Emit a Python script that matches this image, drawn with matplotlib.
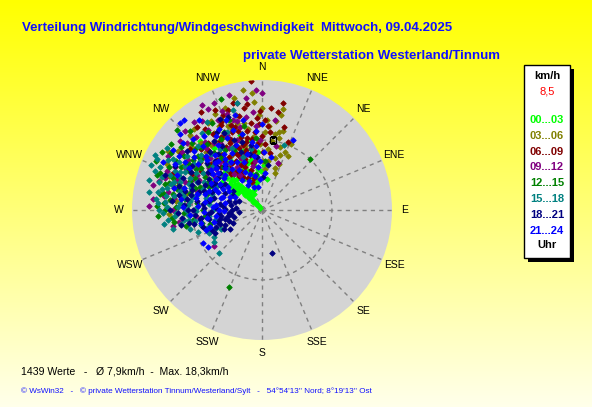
# Wind direction / wind speed distribution (WsWin32 style)

import numpy as np
import matplotlib
matplotlib.use("Agg")
import matplotlib.pyplot as plt
from matplotlib.patches import Rectangle

plt.rcParams['font.family'] = ['Liberation Sans', 'DejaVu Sans']

# data: (direction in degrees, speed in km/h) per time band
pts_00_03 = [(315, 0.4), (314, 0.8), (316, 1.1), (313, 1.4), (317, 1.6), (315, 1.9), (312, 2.2), (318, 2.4),
             (314, 2.7), (316, 3.0), (313, 3.3), (319, 3.5), (315, 3.8), (311, 4.0), (317, 4.3), (314, 4.6),
             (320, 2.0), (310, 1.5), (316, 0.6), (312, 3.0), (318, 3.9), (315, 2.4), (321, 4.8), (313, 5.2),
             (345, 4.5), (350, 5.5), (356, 7.1), (348, 6.2), (340, 5.0), (352, 4.2), (335, 6.5), (342, 7.5),
             (10, 3.8), (330, 4.4), (325, 5.8), (338, 8.3), (318, 11.3), (322, 9.5), (305, 6.0), (300, 7.2),
             (328, 7.0), (346, 3.2), (355, 5.0), (333, 3.6),
             (318, 5.5), (322, 6.2), (326, 4.8), (312, 5.8), (308, 4.6), (335, 7.8), (340, 9.0), (344, 6.0),
             (350, 3.5), (358, 4.8), (3, 5.5), (330, 8.8), (325, 3.0), (332, 2.2), (338, 2.6), (305, 3.5),
             (300, 4.2), (296, 6.5), (344, 9.5), (351, 8.5),
             (320, 6.8), (324, 7.4), (328, 5.2), (316, 6.4), (310, 5.0), (306, 4.0), (319, 1.2), (322, 3.2),
             (327, 2.6), (334, 5.4), (338, 4.2), (311, 2.8), (309, 3.8), (317, 5.0), (313, 6.2)]
pts_03_06 = [(355, 14.3), (0, 12.4), (3, 11.0), (9, 10.9), (12, 9.7), (10, 9.4), (13, 9.0), (8, 8.5), (16, 8.0),
             (6, 7.5), (18, 7.0), (14, 6.5), (20, 6.0), (17, 5.3), (5, 10.2), (2, 9.5), (358, 11.5), (11, 11.8),
             (15, 10.0), (22, 7.6), (7, 6.0), (19, 4.8), (330, 12.5), (333, 11.5), (328, 11.0), (336, 12.0),
             (340, 10.5), (326, 10.0), (345, 12.0), (348, 10.8), (320, 12.8), (312, 11.6), (308, 10.5), (316, 9.8),
             (335, 9.2), (342, 9.0), (350, 10.0), (324, 8.6), (345, 8.0), (352, 7.0), (267.5, 11.3), (290, 12.0),
             (300, 11.0), (282, 9.5), (276, 10.5),
             (356, 13.2), (351, 14.8), (346, 14.0), (340, 13.2), (334, 13.0), (338, 11.0), (332, 10.0), (344, 11.0),
             (353, 9.0), (358, 8.0), (1, 6.0), (4, 5.0), (328, 12.4), (318, 11.0), (322, 10.0), (316, 12.6),
             (305, 12.5), (302, 13.5), (296, 12.8), (286, 11.2), (314, 8.0), (330, 7.6), (12, 12.5), (24, 8.8),
             (26, 7.3)]
pts_06_09 = [(355, 15.7), (11, 13.2), (5, 12.4), (9, 12.1), (328, 14.1), (352, 13.0), (2, 11.0), (15, 10.5),
             (21, 8.9), (338, 12.5), (345, 13.5), (325, 12.0), (335, 6.0), (338, 7.0), (340, 8.0), (342, 6.5),
             (345, 7.5), (347, 8.5), (333, 7.8), (330, 8.8), (336, 9.5), (343, 10.0), (349, 9.8), (352, 8.7),
             (355, 9.5), (358, 10.5), (0, 9.0), (3, 8.0), (6, 9.5), (327, 6.8), (332, 5.2), (339, 5.6), (344, 5.0),
             (348, 6.8), (350, 7.7), (354, 6.5), (357, 8.2), (1, 7.0), (320, 9.0), (315, 10.5), (310, 11.5),
             (305, 12.0), (322, 7.5), (318, 8.2), (300, 10.5), (292, 11.8), (285, 10.0), (340, 11.0), (334, 11.5),
             (346, 11.8),
             (337, 4.2), (341, 3.6), (346, 4.0), (330, 4.6), (326, 5.6), (323, 6.4), (319, 5.8), (343, 7.2),
             (349, 5.8), (353, 10.6), (359, 12.0), (4, 10.2), (8, 7.0), (331, 10.2), (327, 11.0), (321, 10.4),
             (313, 9.2), (308, 9.5), (303, 8.8), (297, 9.6), (289, 10.8), (337, 8.4), (344, 9.2), (357, 11.2),
             (350, 12.6), (341, 12.8), (335, 13.4), (322, 12.8),
             (324, 8.2), (328, 7.6), (332, 6.8), (336, 7.4), (340, 6.2), (329, 9.8), (334, 9.0), (339, 10.2),
             (344, 8.2), (348, 9.0), (352, 7.2), (316, 7.2), (320, 6.2), (326, 5.0), (318, 9.8), (312, 8.4),
             (335, 11.8), (342, 10.6)]
pts_09_12 = [(0, 14.2), (330, 14.7), (332, 13.9), (347, 13.3), (322, 13.5), (272, 13.7), (260, 11.0), (281, 11.6),
             (233, 7.3), (247, 6.9), (18.5, 6.0), (8, 11.0), (12, 8.0), (338, 13.0), (310, 13.0), (300, 13.2),
             (292, 12.5), (286, 13.0), (335, 10.0), (340, 9.0), (345, 10.5), (350, 11.5), (355, 12.0), (358, 8.5),
             (328, 9.5), (320, 10.8), (315, 9.0), (310, 10.0), (305, 9.5), (298, 10.5), (295, 8.5), (302, 8.0),
             (312, 7.5), (325, 7.0), (330, 6.0), (338, 6.8), (348, 5.5), (342, 11.5), (318, 12.0), (290, 10.0),
             (284, 11.0), (278, 12.0), (275, 9.0), (265, 8.0), (255, 7.5), (305, 7.0), (322, 5.5),
             (352, 13.8), (357, 14.6), (344, 14.5), (336, 14.2), (326, 13.0), (316, 13.4), (306, 12.0), (296, 11.8),
             (288, 12.4), (280, 10.2), (270, 10.8), (262, 10.2), (283, 13.6), (276, 13.3), (324, 10.0), (332, 8.6),
             (340, 12.4), (346, 7.0), (352, 6.0), (356, 10.2), (308, 8.2), (300, 6.8), (294, 9.2), (312, 12.2),
             (319, 7.8), (327, 5.0),
             (304, 10.8), (298, 9.0), (290, 11.0), (312, 9.6), (318, 10.2), (326, 11.8), (334, 12.2), (344, 11.2),
             (286, 8.2), (278, 10.8)]
pts_12_15 = [(340, 14.4), (43, 8.5), (203, 10.2), (266.7, 12.7), (288.4, 13.4), (300, 14.0), (313, 14.2),
             (295, 12.5), (300, 12.0), (305, 11.5), (290, 11.5), (285, 12.2), (280, 11.0), (298, 10.0), (292, 9.5),
             (288, 8.5), (283, 9.0), (278, 9.5), (272, 10.5), (268, 9.5), (262, 8.5), (258, 7.5), (305, 9.0),
             (310, 8.5), (315, 8.0), (320, 9.0), (312, 11.0), (302, 13.0), (295, 14.2), (287, 10.5), (276, 8.0),
             (270, 7.2), (255, 6.5), (265, 11.0), (274, 12.0), (308, 12.5), (318, 7.0), (300, 8.0), (293, 7.0),
             (330, 10.0), (325, 11.5), (345, 9.5), (335, 8.0), (3, 6.0), (350, 4.5),
             (310, 10.2), (316, 10.6), (322, 8.0), (328, 8.6), (334, 10.6), (340, 11.6), (296, 9.0), (302, 10.5),
             (306, 13.6), (284, 10.6), (279, 12.6), (290, 13.2), (296, 7.4), (290, 8.0), (286, 7.0), (282, 6.2),
             (276, 11.3), (270, 11.8), (262, 10.8), (258, 9.4), (355, 8.8), (348, 10.4), (330, 12.2), (318, 13.0),
             (264, 7.0),
             (302, 9.4), (298, 11.2), (292, 10.8), (286, 11.8), (280, 12.2), (272, 12.8), (310, 9.6), (314, 11.8),
             (306, 10.4), (320, 10.4)]
pts_15_18 = [(296, 14.2), (293, 13.5), (290, 13.8), (288, 12.8), (285, 13.0), (282, 12.4), (280, 12.8), (286, 11.5),
             (291, 12.0), (295, 11.0), (300, 12.5), (298, 13.0), (276, 13.0), (272, 11.5), (270, 12.5), (268, 10.5),
             (264, 11.5), (260, 10.0), (275, 10.0), (279, 10.8), (283, 10.2), (289, 10.6), (294, 9.6), (299, 9.2),
             (304, 10.0), (287, 9.0), (281, 8.5), (277, 8.8), (272, 8.0), (266, 9.0), (261, 8.2), (256, 7.6),
             (252, 7.0), (248, 6.0), (241, 6.7), (236, 7.0), (225.4, 7.4), (245, 5.5), (258, 5.8), (264, 6.5),
             (270, 6.0), (276, 6.5), (282, 7.0), (290, 7.6), (296, 7.8), (302, 8.5), (308, 9.6), (315, 11.0),
             (347, 13.3), (18.4, 8.3), (350, 7.5), (340, 6.8), (320, 6.5), (310, 6.2), (325, 9.0),
             (300, 10.8), (306, 11.2), (312, 10.0), (318, 9.2), (322, 11.8), (328, 12.6), (334, 8.4), (303, 13.8),
             (297, 14.6), (292, 14.6), (285, 14.2), (279, 13.9), (274, 12.7), (268, 12.0), (262, 12.0), (258, 11.0),
             (255, 9.0), (251, 8.2), (246, 7.0), (263, 9.6), (269, 8.0), (274, 9.0), (279, 9.5), (284, 8.0),
             (288, 6.4), (293, 8.6), (298, 6.2), (312, 8.0), (326, 7.0), (336, 10.4), (344, 12.6),
             (278, 11.8), (283, 11.8), (288, 11.2), (292, 10.8), (296, 10.4), (281, 9.8), (286, 9.8), (272, 10.2),
             (266, 10.6), (275, 11.8), (270, 9.2), (262, 9.0), (290, 9.4), (294, 11.6), (300, 11.6)]
pts_18_21 = [(167, 5.4), (254, 7.4), (259.5, 10.0), (250, 6.0), (255, 5.5), (260, 6.5), (263, 7.5), (266, 8.2),
             (270, 9.0), (274, 9.5), (278, 8.0), (282, 8.8), (286, 8.0), (290, 9.0), (294, 8.5), (268, 6.2),
             (272, 7.0), (276, 7.2), (262, 5.0), (257, 4.6), (252, 4.2), (248, 4.8), (244, 5.2), (240, 4.5),
             (246, 3.8), (256, 3.5), (265, 4.0), (272, 4.5), (278, 5.2), (284, 6.0), (290, 6.5), (296, 6.8),
             (300, 7.5), (305, 8.0), (310, 8.8), (298, 9.8), (286, 10.5), (280, 10.2), (276, 11.0), (270, 11.2),
             (318, 9.5), (325, 10.2), (330, 11.0), (335, 12.2), (305, 5.5), (295, 5.0), (285, 4.2), (275, 3.2),
             (264, 2.8), (350, 8.0), (355, 6.5), (340, 7.5), (8, 5.5), (2, 4.0), (260, 9.0),
             (300, 5.8), (306, 6.6), (312, 6.8), (316, 8.2), (322, 8.6), (328, 9.2), (334, 10.4), (338, 9.2),
             (344, 8.6), (348, 7.0), (288, 7.4), (280, 6.6), (272, 5.6), (266, 5.2), (260, 4.2), (252, 5.4),
             (248, 6.6), (244, 6.4), (284, 9.6), (292, 10.4), (302, 10.0), (308, 11.6), (297, 11.8), (264, 9.8),
             (268, 10.2), (258, 8.4), (290, 12.6), (340, 12.0),
             (276, 4.8), (280, 3.8), (286, 3.4), (292, 3.0), (298, 4.0), (304, 4.2), (270, 3.6),
             (262, 3.8), (258, 5.2), (266, 6.6), (262, 7.6), (270, 8.4), (278, 9.2), (286, 8.8), (294, 7.6),
             (300, 6.6), (306, 7.6), (314, 7.6), (320, 7.0)]
pts_21_24 = [(316.5, 14.5), (319, 14.5), (23.7, 9.3), (241, 8.2), (235.5, 8.0), (345, 9.5), (338, 8.5), (332, 7.8),
             (326, 8.2), (320, 8.8), (314, 9.5), (308, 10.5), (302, 11.0),
             (312, 7.6), (318, 6.8), (324, 6.2), (330, 5.6), (336, 5.0), (342, 4.6), (348, 4.2),
             (354, 5.2), (358, 6.0), (2, 7.0), (352, 8.4), (356, 9.6), (0, 10.5), (348, 11.2), (340, 10.4),
             (334, 9.8), (328, 10.6), (322, 11.4), (316, 12.0), (310, 12.6), (304, 13.0), (298, 12.0), (292, 11.2),
             (286, 9.8), (280, 8.2), (274, 7.8), (268, 7.0), (262, 6.8), (310, 6.0), (304, 6.8), (298, 7.0),
             (292, 5.8), (286, 5.2), (280, 4.6), (330, 3.5), (340, 3.0), (350, 2.8), (5, 4.5),
             (10, 6.5), (357, 3.8),
             (315, 8.0), (321, 7.2), (327, 7.0), (333, 6.6), (339, 6.2), (345, 7.0), (351, 6.6), (355, 7.8),
             (306, 9.6), (300, 10.2), (284, 11.0), (278, 10.0), (272, 9.6), (266, 8.8),
             (258, 7.6), (250, 7.2), (326, 9.6), (332, 11.2), (338, 11.8), (344, 12.0), (317, 10.6), (311, 11.0),
             (303, 12.0), (325, 13.4), (313, 13.6), (296, 13.4), (336, 3.8), (326, 4.4), (304, 5.0),
             (282, 6.4), (286, 7.2), (290, 6.8), (294, 6.2), (298, 5.4), (302, 6.0), (306, 7.4), (310, 7.0),
             (314, 6.2), (288, 5.0), (292, 4.2), (296, 3.6), (300, 4.6), (284, 8.2), (278, 7.0), (274, 6.0),
             (270, 5.2), (276, 5.6), (308, 7.8), (312, 9.0),
             (318, 8.0), (324, 7.6), (262, 5.6), (268, 4.6), (256, 6.0), (252, 6.6)]

bands = ["00...03", "03...06", "06...09", "09...12", "12...15", "15...18", "18...21", "21...24"]
band_colors = ["#00ff00", "#808000", "#800000", "#800080", "#008000", "#008080", "#000080", "#0000ff"]
band_points = [pts_00_03, pts_03_06, pts_06_09, pts_09_12, pts_12_15, pts_15_18, pts_18_21, pts_21_24]

directions = ["N", "NNE", "NE", "ENE", "E", "ESE", "SE", "SSE",
              "S", "SSW", "SW", "WSW", "W", "WNW", "NW", "NNW"]
mean_dir, mean_speed = 9, 8.6
ring_speed = 8.5
r_max = 15.8

W, H = 592, 407
fig = plt.figure(figsize=(W / 100, H / 100), dpi=100)

# yellow gradient background, also used as pixel canvas for texts
bg = fig.add_axes([0, 0, 1, 1])
grad = np.linspace(0, 1, 256)[:, None]
img = np.zeros((256, 1, 3))
img[..., 0] = 1.0
img[..., 1] = 1.0
img[..., 2] = grad * 0.92
bg.imshow(img, aspect="auto", extent=[0, W, H, 0], zorder=0)
bg.set_xlim(0, W)
bg.set_ylim(H, 0)
bg.axis("off")

blue = "#1010ff"
bg.text(22, 28, "Verteilung Windrichtung/Windgeschwindigkeit  Mittwoch, 09.04.2025",
        color=blue, fontsize=9.5, fontweight="bold", va="center", ha="left")
bg.text(243, 56, "private Wetterstation Westerland/Tinnum",
        color=blue, fontsize=9.5, fontweight="bold", va="center", ha="left")
bg.text(21, 372, "1439 Werte   -   Ø 7,9km/h  -  Max. 18,3km/h",
        color="black", fontsize=7.6, va="center", ha="left")
bg.text(21, 391, "© WsWin32   -   © private Wetterstation Tinnum/Westerland/Sylt   -   54°54'13'' Nord; 8°19'13'' Ost",
        color=blue, fontsize=5.85, va="center", ha="left")

# legend box with shadow
bg.add_patch(Rectangle((528, 69), 46, 193, facecolor="black", edgecolor="none", zorder=2))
bg.add_patch(Rectangle((524, 65), 46, 193, facecolor="white", edgecolor="black", lw=1, zorder=3))
bg.text(547, 76, "km/h", fontsize=8, fontweight="bold", ha="center", va="center", zorder=4)
bg.text(547, 92, "8,5", color="red", fontsize=8, ha="center", va="center", zorder=4)
for i, (lab, col) in enumerate(zip(bands, band_colors)):
    bg.text(547, 120 + i * 15.8, lab, color=col, fontsize=8, fontweight="bold",
            ha="center", va="center", zorder=4)
bg.text(547, 245, "Uhr", fontsize=8, fontweight="bold", ha="center", va="center", zorder=4)

# polar plot
cx, cy, rad = 262, 210, 130
ax = fig.add_axes([(cx - rad) / W, (H - cy - rad) / H, 2 * rad / W, 2 * rad / H], projection="polar")
ax.set_theta_zero_location("N")
ax.set_theta_direction(-1)
ax.set_facecolor("#d4d4d4")
ax.spines["polar"].set_visible(False)
ax.set_ylim(0, r_max)
ax.set_xticks(np.radians(np.arange(0, 360, 22.5)))
ax.set_xticklabels([])
ax.set_yticks([ring_speed])
ax.set_yticklabels([])
ax.grid(True, color="#808080", ls=(0, (3, 3)), lw=1)
ax.set_axisbelow(True)

for ang, lab in zip(np.arange(0, 360, 22.5), directions):
    ax.text(np.radians(ang), r_max * 1.1, lab, fontsize=7.5, ha="center", va="center", clip_on=False)

# chronological drawing order: later hours on top
for pts, col in zip(band_points, band_colors):
    d, s = zip(*pts)
    ax.plot(np.radians(d), s, ls="none", marker="D", ms=2.8, mew=0.6, color=col, mec=col, zorder=3)

ax.plot(np.radians(mean_dir), mean_speed, ls="none", marker="s", ms=5, mfc="none", mec="black", mew=1, zorder=4)

fig.savefig("out.png", dpi=100)
